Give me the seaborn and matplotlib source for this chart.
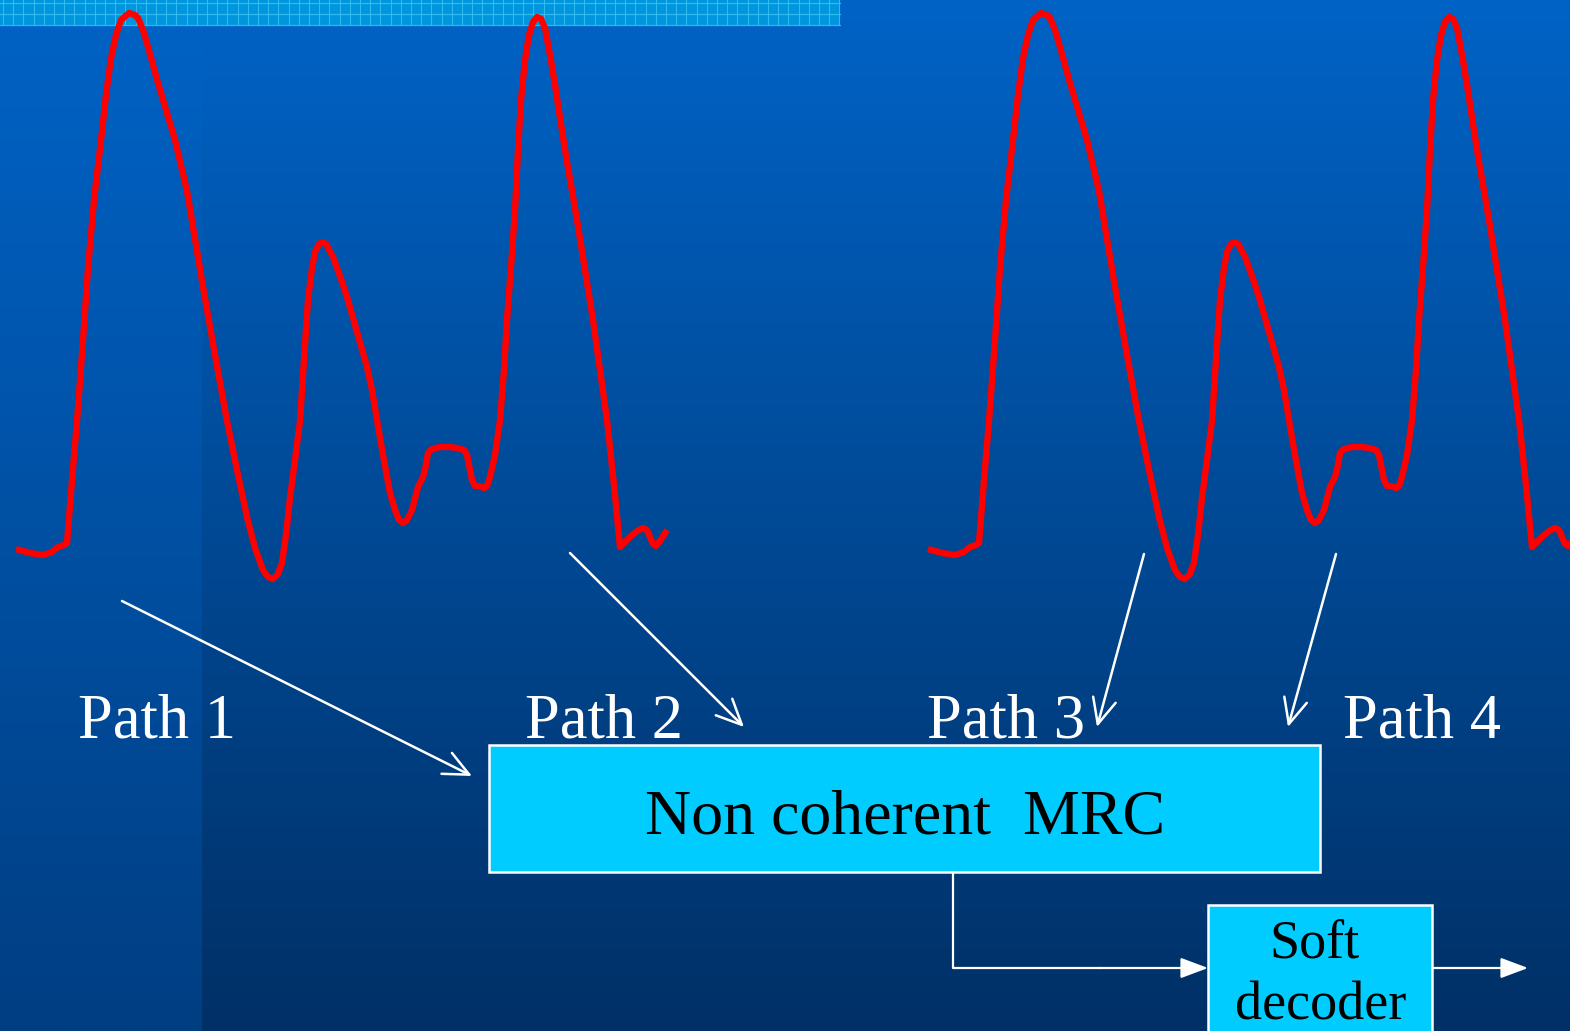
"""
plot.py

Blokschema: vier multipad-pulsen die naar een niet-coherente MRC gaan,
gevolgd door een soft decoder.
"""

import numpy as np
import matplotlib.pyplot as plt
import seaborn as sns
from matplotlib.patches import Rectangle

wave_x = [16, 30, 43, 52, 58, 64, 67, 72, 77, 83, 88, 94, 101, 106, 111, 116,
          121, 129, 135, 138, 143, 148, 158, 175, 187, 203, 215, 227, 237, 247,
          255, 263, 268, 273, 278, 282, 286, 290, 295, 300, 305, 308, 312, 315,
          319, 322, 326, 333, 340, 347, 357, 367, 372, 377, 383, 390, 395, 399,
          403, 407, 412, 418, 423, 426, 428, 432, 440, 450, 457, 464, 467, 469,
          472, 475, 479, 484, 487, 490, 495, 500, 504, 507, 512, 515, 518, 521,
          525, 529, 533, 537, 541, 545, 550, 555, 565, 577, 585, 593, 607, 614,
          620, 625, 630, 637, 643, 647, 650, 653, 656, 660, 667]
wave_y = [549, 553, 555, 552, 547, 545, 543, 480, 421, 340, 268, 200, 140, 95,
          58, 35, 20, 13, 15, 18, 30, 47, 83, 140, 191, 287, 355, 421, 470, 517,
          548, 570, 577, 579, 574, 563, 535, 498, 460, 421, 344, 300, 268, 252,
          244, 242, 244, 257, 276, 297, 332, 367, 390, 420, 455, 493, 510, 520,
          523, 520, 510, 487, 477, 465, 453, 449, 447, 447, 448, 450, 455, 465,
          480, 486, 486, 488, 486, 477, 455, 420, 370, 320, 253, 210, 150, 100,
          60, 35, 22, 17, 19, 28, 55, 85, 150, 220, 270, 320, 420, 485, 547, 542,
          537, 531, 528, 530, 537, 544, 546, 541, 530]
wave_offsets = [0, 912]

path_labels = ["Path 1", "Path 2", "Path 3", "Path 4"]
path_label_x = [78, 525, 927, 1343]

# pijlen: (start) -> (eind)
arrow_start = [(122, 601), (570, 553), (1144, 554), (1336, 554)]
arrow_end = [(472, 776), (744, 727), (1097, 727), (1288, 727)]

mrc_label = "Non coherent  MRC"
decoder_lines = ["Soft", "decoder"]

W, H = 1570, 1031
FONT = ["Liberation Serif", "DejaVu Serif"]


def draw_background(ax):
    """Verticale blauwe gradiënt met iets lichtere strook links."""
    t = np.linspace(0, 1, 400)[:, None]
    top = np.array([0, 99, 198]) / 255
    bottom = np.array([0, 48, 102]) / 255
    bottom_left = np.array([0, 62, 130]) / 255
    main = top + t[..., None] * (bottom - top)
    left = top + t[..., None] * (bottom_left - top)
    ax.imshow(np.repeat(main, 2, axis=1), extent=[0, W, H, 0], aspect="auto", zorder=0)
    ax.imshow(np.repeat(left, 2, axis=1), extent=[0, 202, H, 0], aspect="auto", zorder=0)

    # lichte gerasterde strook bovenaan
    ax.add_patch(Rectangle((0, 0), 840, 25, facecolor="#0096DE", edgecolor="none", zorder=1))
    for gx in np.arange(3, 840, 10.2):
        ax.plot([gx, gx], [0, 25], color="#34BDF2", lw=0.8, alpha=0.9, zorder=1)
    for gy in [3.3, 14, 24.5]:
        ax.plot([0, 840], [gy, gy], color="#34BDF2", lw=0.9, alpha=0.9, zorder=1)


def main():
    fig = plt.figure(figsize=(15.7, 10.31), dpi=100)
    ax = fig.add_axes([0, 0, 1, 1])
    draw_background(ax)

    # rode golfvormen
    for off in wave_offsets:
        sns.lineplot(x=np.array(wave_x) + off, y=wave_y, sort=False, estimator=None,
                     color="#FF0000", lw=4.6, ax=ax, zorder=3,
                     solid_joinstyle="round", solid_capstyle="butt")

    # witte pijlen naar de MRC
    for (x0, y0), (x1, y1) in zip(arrow_start, arrow_end):
        ax.annotate("", xy=(x1, y1), xytext=(x0, y0),
                    arrowprops=dict(arrowstyle="->,head_length=1.3,head_width=0.6",
                                    color="white", lw=1.8, mutation_scale=14,
                                    shrinkA=0, shrinkB=0), zorder=4)

    for label, lx in zip(path_labels, path_label_x):
        ax.text(lx, 738, label, color="white", fontsize=45, family=FONT,
                ha="left", va="baseline", zorder=5)

    # MRC blok
    ax.add_patch(Rectangle((489, 745), 831, 127, facecolor="#00CCFF",
                           edgecolor="white", lw=1.8, zorder=4))
    ax.text(905, 833, mrc_label, color="black", fontsize=46, family=FONT,
            ha="center", va="baseline", zorder=5)

    # verbinding naar de soft decoder
    ax.plot([953, 953, 1100], [873, 968, 968], color="white", lw=1.6, zorder=4)
    for x0, x1 in [(1100, 1208), (1432, 1528)]:
        ax.annotate("", xy=(x1, 968), xytext=(x0, 968),
                    arrowprops=dict(arrowstyle="-|>,head_length=1.2,head_width=0.45",
                                    color="white", lw=1.6, mutation_scale=14,
                                    shrinkA=0, shrinkB=0), zorder=4)

    ax.add_patch(Rectangle((1208, 905), 224, 160, facecolor="#00CCFF",
                           edgecolor="white", lw=1.8, zorder=4))
    ax.text(1314, 958, decoder_lines[0], color="black", fontsize=39, family=FONT,
            ha="center", va="baseline", zorder=5)
    ax.text(1321, 1020, decoder_lines[1], color="black", fontsize=39, family=FONT,
            ha="center", va="baseline", zorder=5)

    ax.set_xlim(0, W)
    ax.set_ylim(H, 0)
    ax.axis("off")

    plt.savefig("out.png", dpi=100)
    plt.close()


if __name__ == "__main__":
    main()
